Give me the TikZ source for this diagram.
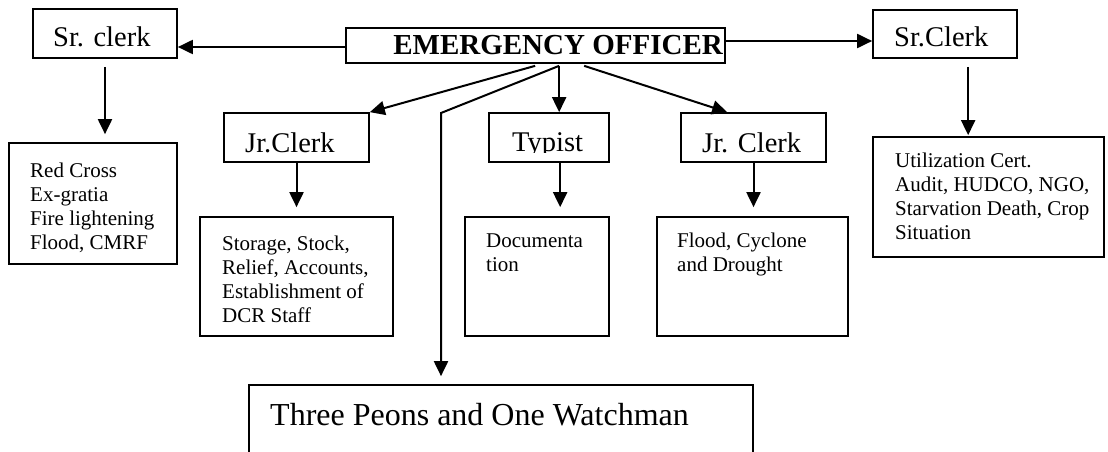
\documentclass[tikz,border=0pt]{standalone}
\usepackage{fontspec}
\setmainfont{Liberation Serif}
\usetikzlibrary{arrows.meta,calc}
\begin{document}
\begin{tikzpicture}[x=1pt,y=-1pt,
  box/.style args={#1 by #2}{draw, line width=1.7pt, inner sep=0pt,
    minimum width=#1pt, minimum height=#2pt},
  title/.style={inner sep=0pt, anchor=base west, font=\fontsize{28.5}{34}\selectfont},
  list/.style={inner sep=0pt, anchor=north west, align=left,
    font=\fontsize{21}{24}\selectfont},
  arr/.style={line width=2pt, -{Triangle[length=15pt,width=14pt]}}]
\clip (0,0) rectangle (1108,452);
\fill[white] (0,0) rectangle (1108,452);

% boxes
\node[box={144 by 49}]  (src)  at (105,33.5)   {};
\node[box={379 by 35}]  (eo)   at (535.5,45.5) {};
\node[box={144 by 48}]  (src2) at (945,34)     {};
\node[box={145 by 49}]  (jr1)  at (296.5,137.5) {};
\node[box={120 by 49}]  (typ)  at (549,137.5)  {};
\node[box={145 by 49}]  (jr2)  at (753.5,137.5) {};
\node[box={168 by 121}] (red)  at (93,203.5)   {};
\node[box={193 by 119}] (sto)  at (296.5,276.5) {};
\node[box={144 by 119}] (doc)  at (537,276.5)  {};
\node[box={191 by 119}] (fld)  at (752.5,276.5) {};
\node[box={231 by 120}] (uti)  at (988.5,197)  {};
\node[box={504 by 95}]  (peo)  at (501,432.5)  {};

% box titles
\node[title] (srct) at (53,47) {Sr. clerk};
\node[title, anchor=base east, font=\fontsize{29}{34}\selectfont\bfseries]
  (eot) at (723,55) {EMERGENCY OFFICER};
\node[title] (src2t) at (894,47) {Sr.Clerk};
\node[title] (jr1t) at (245,152) {Jr.Clerk};
\begin{scope}
  \clip (typ.north west) rectangle ($(typ.south east)+(0,-10)$);
  \node[title] (typt) at (512,151.5) {Typist};
\end{scope}
\node[title] (jr2t) at (702,152) {Jr. Clerk};
\node[title, font=\fontsize{32}{38}\selectfont] (peot) at (270,425)
  {Three Peons and One Watchman};

% duty lists
\node[list] (redt) at (30,160.2)
  {\strut Red Cross\\Ex-gratia\\Fire lightening\\Flood, CMRF};
\node[list] (stot) at (222,233.2)
  {\strut Storage, Stock,\\Relief, Accounts,\\Establishment of\\DCR Staff};
\node[list] (doct) at (486,230.2) {\strut Documenta\\tion};
\node[list] (fldt) at (677,230.2) {\strut Flood, Cyclone\\and Drought};
\node[list] (utit) at (895,150.2)
  {\strut Utilization Cert.\\Audit, HUDCO, NGO,\\Starvation Death, Crop\\Situation};

% connectors
\coordinate (lA) at ($(eo.west)+(0,1.5)$);
\draw[arr] (lA) -- (lA -| src.east);
\coordinate (rA) at ($(eo.east)+(0,-4.5)$);
\draw[arr] (rA) -- (rA -| src2.west);

\draw[arr] ($(src.south)+(0,8)$) -- ($(src.south |- red.north)+(0,-8)$);
\coordinate (sA) at ($(src2.south west)+(96,8)$);
\draw[arr] (sA) -- ($(sA |- uti.north)+(0,-1)$);

\draw[arr] (jr1.south) -- ($(jr1.south |- sto.north)+(0,-9)$);
\coordinate (tA) at ($(typ.south west)+(72,0)$);
\draw[arr] (tA) -- ($(tA |- doc.north)+(0,-9)$);
\draw[arr] (jr2.south) -- ($(jr2.south |- fld.north)+(0,-9)$);

\draw[arr] ($(eo.south west)+(190,2)$) -- (jr1.north east);
\draw[arr] ($(eo.south west)+(214,2)$) -- ($(typ.north west)+(71,0)$);
\draw[arr] ($(eo.south west)+(239,2)$) -- ($(jr2.north west)+(47,0)$);
\coordinate (bend) at (441,113);
\draw[arr] ($(eo.south west)+(214,2)$) -- (bend) -- ($(bend |- peo.north)+(0,-8)$);
\end{tikzpicture}
\end{document}
